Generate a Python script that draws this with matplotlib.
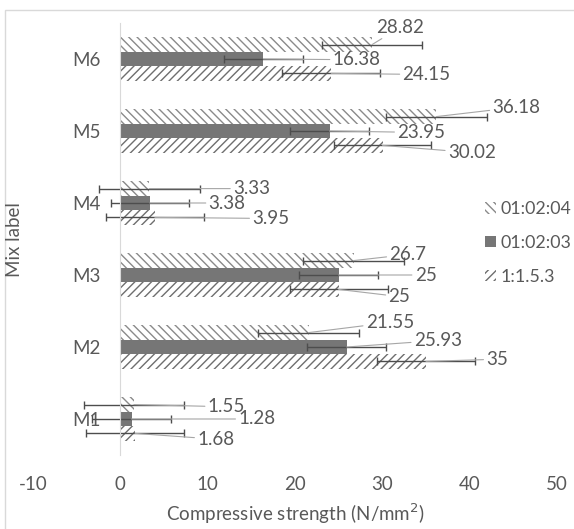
import matplotlib
matplotlib.use('Agg')
import matplotlib.pyplot as plt
from matplotlib.patches import Rectangle
import numpy as np

# data
mixes = ['M1', 'M2', 'M3', 'M4', 'M5', 'M6']
series_names = ['01:02:04', '01:02:03', '1:1.5.3']
s_124 = [1.55, 21.55, 26.7, 3.33, 36.18, 28.82]
s_123 = [1.28, 25.93, 25, 3.38, 23.95, 16.38]
s_1153 = [1.68, 35, 25, 3.95, 30.02, 24.15]
err_124 = [5.75, 5.75, 5.75, 5.75, 5.75, 5.75]
err_123 = [4.5, 4.5, 4.5, 4.5, 4.5, 4.5]
err_1153 = [5.6, 5.6, 5.6, 5.6, 5.6, 5.6]

# where the data labels sit (x in axis units, y offset from the category centre)
lab_x = [[10.0, 28.1, 30.8, 12.9, 42.6, 29.3],
         [13.5, 33.6, 33.7, 10.1, 31.7, 24.3],
         [8.8, 41.9, 30.7, 15.1, 37.5, 32.3]]
lab_dy = [[0.17, 0.34, 0.285, 0.2, 0.33, 0.44],
          [0.0, 0.09, 0.0, 0.0, -0.02, -0.01],
          [-0.28, -0.17, -0.3, -0.215, -0.30, -0.215]]

txt = '#595959'
plt.rcParams['font.family'] = ['Lato', 'DejaVu Sans']
plt.rcParams['font.size'] = 13
plt.rcParams['axes.unicode_minus'] = False
plt.rcParams['hatch.linewidth'] = 1.0

fig = plt.figure(figsize=(5.74, 5.29), dpi=100)
ax = fig.add_axes([0.0575, 0.1399, 0.9129, 0.8166])

# light grey chart border
fig.patches.append(Rectangle((5 / 574, -0.05), 1.2, 1 - 10 / 529 + 0.05,
                             transform=fig.transFigure, fill=False,
                             edgecolor='#d9d9d9', lw=1.0))

y = np.arange(len(mixes))
h = 0.2
styles = [
    dict(facecolor='white', edgecolor='#8a8a8a', hatch='\\\\\\\\', linewidth=0),
    dict(facecolor='#767676', edgecolor='#767676', hatch=None, linewidth=0),
    dict(facecolor='white', edgecolor='#6e6e6e', hatch='////', linewidth=0),
]
vals = [s_124, s_123, s_1153]
errs = [err_124, err_123, err_1153]
offs = [h, 0, -h]

bars = []
for i in range(3):
    b = ax.barh(y + offs[i], vals[i], height=h, label=series_names[i], **styles[i])
    bars.append(b)
    ax.errorbar(vals[i], y + offs[i], xerr=errs[i], fmt='none',
                ecolor='#4d4d4d', elinewidth=1.0, capsize=3, capthick=1.0)
    for k in range(len(mixes)):
        ax.annotate(f'{vals[i][k]:g}', xy=(vals[i][k], y[k] + offs[i]),
                    xytext=(lab_x[i][k], y[k] + lab_dy[i][k]),
                    ha='left', va='center', color=txt, fontsize=13.5,
                    arrowprops=dict(arrowstyle='-', color='#a6a6a6', lw=0.8,
                                    shrinkA=0, shrinkB=0))

ax.set_xlim(-10, 50)
ax.set_ylim(-0.5, 5.5)
ax.set_xticks([-10, 0, 10, 20, 30, 40, 50])
ax.set_yticks(y)
ax.set_yticklabels(mixes)

for s in ['top', 'right', 'bottom']:
    ax.spines[s].set_visible(False)
ax.spines['left'].set_position(('data', 0))
ax.spines['left'].set_color('#d9d9d9')
ax.tick_params(axis='both', length=0, colors=txt, labelsize=13.5)
ax.tick_params(axis='y', pad=14)
ax.tick_params(axis='x', pad=15)

ax.set_xlabel('Compressive strength (N/mm$^2$)', color=txt, fontsize=13.5, labelpad=6)
fig.text(14 / 574, 1 - 240 / 529, 'Mix label', rotation=90, ha='center',
         va='center', color=txt, fontsize=13.5)

leg = fig.legend(handles=bars, labels=series_names, loc='center left',
                 bbox_to_anchor=(485 / 574, 1 - 243 / 529),
                 bbox_transform=fig.transFigure, frameon=False,
                 handlelength=0.6, handleheight=0.6, handletextpad=0.25,
                 labelspacing=1.0, borderpad=0, borderaxespad=0,
                 fontsize=12.8, labelcolor=txt)
for p, st in zip(leg.get_patches(), styles):
    p.set_facecolor(st['facecolor'])
    p.set_edgecolor(st['edgecolor'])
    p.set_hatch(st['hatch'])
    p.set_linewidth(0)

fig.savefig('out.png', dpi=100)
